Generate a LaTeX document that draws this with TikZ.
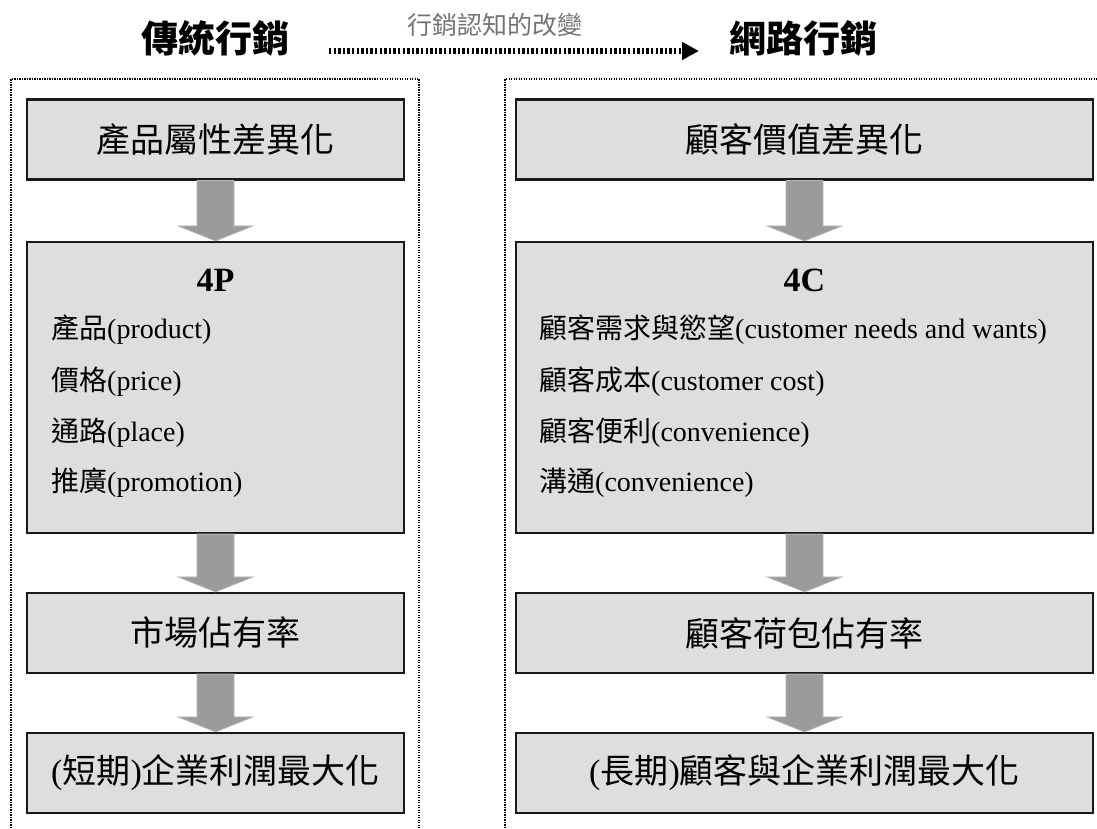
\documentclass[tikz,border=0pt]{standalone}
\usepackage{fontspec}
\setmainfont{Liberation Serif}
\newfontfamily\cjk{Noto Sans CJK TC}
\usetikzlibrary{calc,arrows.meta}
\definecolor{boxfill}{HTML}{DEDEDE}
\definecolor{arrowfill}{HTML}{9B9B9B}
\definecolor{arrowedge}{HTML}{B5B5B5}
\newcommand\myfatarrow[2]{%
  \filldraw[fill=arrowfill, draw=arrowedge, line width=0.8pt]
    ($(#1.south)+(-18.5,0)$) -- ($(#2.north)+(-18.5,15)$) -- ($(#2.north)+(-37.5,15)$)
    -- (#2.north) -- ($(#2.north)+(37.5,15)$) -- ($(#2.north)+(18.5,15)$)
    -- ($(#1.south)+(18.5,0)$) -- cycle;}
\begin{document}
\begin{tikzpicture}[x=1pt,y=1pt,
  box/.style={draw=black!90, line width=2.2pt, fill=boxfill, inner sep=0pt, minimum height=80pt},
  leftbox/.style={box, minimum width=377pt},
  rightbox/.style={box, minimum width=577pt},
  boxtext/.style={font=\cjk\fontsize{34}{40}\selectfont},
  item/.style={anchor=west, inner sep=0pt, font=\fontsize{28}{32}\selectfont},
  headtxt/.style={inner sep=0pt, font=\bfseries\fontsize{34}{38}\selectfont},
  frame/.style={draw=black, line width=1.6pt, dash pattern=on 1.2pt off 1.3pt},
  title/.style={inner sep=0pt, font=\cjk\bfseries\fontsize{37}{42}\selectfont},
  sublabel/.style={inner sep=0pt, text=black!55, font=\cjk\fontsize{25}{28}\selectfont},
  changearrow/.style={draw=black, line width=6pt, dash pattern=on 2.4pt off 2.2pt,
    -{Triangle[length=17pt,width=17pt]}}
]
\useasboundingbox (0,0) rectangle (1097,-828);

% titles
\node[title] (t1) at (215,-38) {傳統行銷};
\node[title] (t2) at (803,-38) {網路行銷};
\node[sublabel] (chg) at (495,-25) {行銷認知的改變};
\coordinate (da) at (329,-51);
\coordinate (db) at (699,-51);
\draw[changearrow] (da) -- (db);

% frames
\draw[frame] (11,-828) -- (11,-79) -- (419,-79) -- (419,-828);
\draw[frame] (505,-828) -- (505,-79) -- (1097,-79);

% left column
\node[leftbox, boxtext] (l1) at (215.5,-139.5) {產品屬性差異化};
\node[leftbox, minimum height=291pt] (l2) at (215.5,-387.5) {};
\node[leftbox, boxtext] (l3) at (215.5,-633) {市場佔有率};
\node[leftbox, boxtext] (l4) at (215.5,-773) {{\rmfamily(}短期{\rmfamily)}企業利潤最大化};

\node[headtxt] (l2h) at (215.5,-280) {4P};
\node[item] (l2a) at (51,-330) {{\cjk 產品}(product)};
\node[item] (l2b) at (51,-382) {{\cjk 價格}(price)};
\node[item] (l2c) at (51,-433) {{\cjk 通路}(place)};
\node[item] (l2d) at (51,-483) {{\cjk 推廣}(promotion)};

% right column
\node[rightbox, boxtext] (r1) at (804.5,-139.5) {顧客價值差異化};
\node[rightbox, minimum height=291pt] (r2) at (804.5,-387.5) {};
\node[rightbox, boxtext] (r3) at (804.5,-633) {顧客荷包佔有率};
\node[rightbox, boxtext] (r4) at (804.5,-773) {{\rmfamily(}長期{\rmfamily)}顧客與企業利潤最大化};

\node[headtxt] (r2h) at (804.5,-280) {4C};
\node[item] (r2a) at (539,-330) {{\cjk 顧客需求與慾望}(customer needs and wants)};
\node[item] (r2b) at (539,-382) {{\cjk 顧客成本}(customer cost)};
\node[item] (r2c) at (539,-433) {{\cjk 顧客便利}(convenience)};
\node[item] (r2d) at (539,-483) {{\cjk 溝通}(convenience)};

% fat arrows
\myfatarrow{l1}{l2}
\myfatarrow{l2}{l3}
\myfatarrow{l3}{l4}
\myfatarrow{r1}{r2}
\myfatarrow{r2}{r3}
\myfatarrow{r3}{r4}
\end{tikzpicture}
\end{document}
